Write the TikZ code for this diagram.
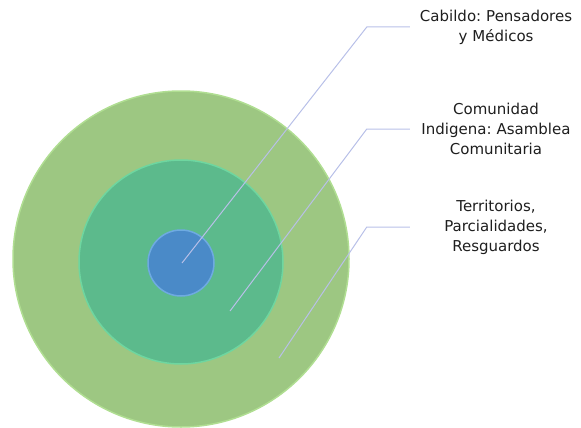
\documentclass[tikz,border=0pt]{standalone}
\usepackage{fontspec}
\setmainfont{DejaVu Sans}
\usepackage{tikz}
\usetikzlibrary{shapes, calc, positioning}

\definecolor{outergreen}{RGB}{157,199,130}
\definecolor{outeredge}{RGB}{176,222,146}
\definecolor{midgreen}{RGB}{92,186,140}
\definecolor{midedge}{RGB}{110,214,160}
\definecolor{coreblue}{RGB}{74,138,200}
\definecolor{coreedge}{RGB}{110,170,225}
\definecolor{leaderblue}{RGB}{184,192,232}
\definecolor{textgray}{RGB}{30,30,30}

\frenchspacing

\begin{document}
\begin{tikzpicture}[x=1pt, y=-1pt]
	\tikzstyle{ring} = [circle, inner sep=0pt, line width=1.5pt]
	\tikzstyle{textbox} = [text width=172pt, inner sep=0pt, align=center, text=textgray, font=\fontsize{15}{20}\selectfont]
	\tikzstyle{leader} = [draw=leaderblue, line width=1pt]

	\useasboundingbox (0,0) rectangle (581,428);

	% concentric rings
	\path
		node[ring, fill=outergreen, draw=outeredge, minimum size=336pt] (territorio) at (181,259) {}
		node[ring, fill=midgreen, draw=midedge, minimum size=204pt] (comunidad) at (181,262) {}
		node[ring, fill=coreblue, draw=coreedge, minimum size=66pt] (cabildo) at (181,263) {}
	;

	% labels
	\path
		node[textbox] (tCabildo) at (496,27) {Cabildo: Pensadores\\y Médicos}
		node[textbox] (tComunidad) at (496,129) {Comunidad\\Indigena: Asamblea\\Comunitaria}
		node[textbox] (tTerritorio) at (496,227) {Territorios,\\Parcialidades,\\Resguardos}
	;

	\coordinate (pCabildo) at (182,263);
	\coordinate (pComunidad) at (230,311);
	\coordinate (pTerritorio) at (279,358);

	\draw[leader] (pCabildo) -- ($(tCabildo.west)+(-43,0)$) -- (tCabildo.west);
	\draw[leader] (pComunidad) -- ($(tComunidad.west)+(-43,0)$) -- (tComunidad.west);
	\draw[leader] (pTerritorio) -- ($(tTerritorio.west)+(-43,0)$) -- (tTerritorio.west);
\end{tikzpicture}
\end{document}
